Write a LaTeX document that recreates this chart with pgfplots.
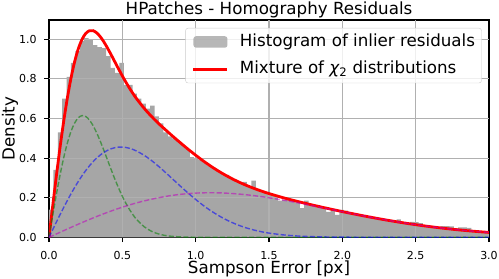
\documentclass[border=0pt]{standalone}
\usepackage{fontspec}
\setmainfont{DejaVu Sans}
\usepackage{pgfplots}
\pgfplotsset{compat=1.18}
\definecolor{mplg}{rgb}{0,0.5,0}
\definecolor{mplb}{rgb}{0,0,1}
\definecolor{mplm}{rgb}{0.75,0,0.75}
\definecolor{gridc}{HTML}{B0B0B0}
\definecolor{histc}{HTML}{A6A6A6}
\begin{document}
\begin{tikzpicture}
\begin{axis}[
  scale only axis, width=440pt, height=217.3pt,
  at={(0pt,0pt)}, anchor=south west,
  xmin=0, xmax=3, ymin=0, ymax=1.097,
  xtick={0,0.5,1,1.5,2,2.5,3},
  xticklabels={0.0,0.5,1.0,1.5,2.0,2.5,3.0},
  ytick={0,0.2,0.4,0.6,0.8,1.0},
  yticklabels={0.0,0.2,0.4,0.6,0.8,1.0},
  xtick pos=bottom, ytick pos=left,
  tick align=outside, major tick length=4.9pt,
  every tick/.style={line width=1.1pt, black},
  axis line style={line width=1.1pt},
  tick label style={font=\fontsize{11}{13}\selectfont, inner sep=0pt},
  xticklabel style={anchor=base, yshift=-17.7pt},
  yticklabel style={anchor=east, xshift=-7.3pt},
  every axis title shift=0pt,
  title={HPatches - Homography Residuals},
  title style={at={(axis description cs:0.5,1.0262)}, anchor=base, yshift=0pt, inner sep=0pt, font=\fontsize{16.7}{20}\selectfont},
  xlabel={Sampson Error [px]},
  xlabel style={at={(axis description cs:0.5,-0.1657)}, anchor=base, inner sep=0pt, font=\fontsize{16.7}{20}\selectfont},
  ylabel={Density},
  ylabel style={at={(axis description cs:-0.0784,0.5)}, anchor=base, inner sep=0pt, font=\fontsize{16.7}{20}\selectfont},
  legend cell align=left,
  legend style={at={(axis description cs:0.9835,0.9632)}, anchor=north east,
    font=\fontsize{16.7}{20}\selectfont, draw=black!20, rounded corners=2.5pt,
    fill=white, fill opacity=0.8, text opacity=1, inner xsep=6.5pt, inner ysep=5.5pt, row sep=10.8pt,
    nodes={inner sep=0pt, text height=12.5pt, text depth=4pt},
    /tikz/every odd column/.append style={column sep=11pt}},
]
\addplot[ybar interval, fill=histc, draw=none,
  legend image code/.code={\fill[histc] (0pt,-5.7pt) rectangle (34pt,5.7pt);}]
coordinates {
(0.00,0.14) (0.03,0.34) (0.06,0.53) (0.09,0.70) (0.12,0.81) (0.15,0.88) (0.18,0.94) (0.21,0.99) (0.24,1.005) (0.27,1.00)
(0.30,0.97) (0.33,0.96) (0.36,0.955) (0.39,0.915) (0.42,0.855) (0.45,0.83) (0.48,0.88) (0.51,0.77) (0.54,0.77) (0.57,0.725)
(0.60,0.70) (0.63,0.675) (0.66,0.65) (0.69,0.665) (0.72,0.61) (0.75,0.575) (0.78,0.53) (0.81,0.51) (0.84,0.50) (0.87,0.485)
(0.90,0.465) (0.93,0.445) (0.96,0.405) (0.99,0.40) (1.02,0.39) (1.05,0.375) (1.08,0.36) (1.11,0.345) (1.14,0.335) (1.17,0.32)
(1.20,0.315) (1.23,0.30) (1.26,0.285) (1.29,0.275) (1.32,0.28) (1.35,0.255) (1.38,0.286) (1.41,0.24) (1.44,0.23) (1.47,0.225)
(1.50,0.22) (1.53,0.21) (1.56,0.185) (1.59,0.19) (1.62,0.195) (1.65,0.185) (1.68,0.175) (1.71,0.147) (1.74,0.185) (1.77,0.16)
(1.80,0.155) (1.83,0.155) (1.86,0.15) (1.89,0.128) (1.92,0.138) (1.95,0.113) (1.98,0.138) (2.01,0.135) (2.04,0.12) (2.07,0.115)
(2.10,0.11) (2.13,0.108) (2.16,0.104) (2.19,0.10) (2.22,0.095) (2.25,0.09) (2.28,0.087) (2.31,0.084) (2.34,0.082) (2.37,0.09)
(2.40,0.075) (2.43,0.07) (2.46,0.078) (2.49,0.077) (2.52,0.072) (2.55,0.06) (2.58,0.057) (2.61,0.053) (2.64,0.05) (2.67,0.057)
(2.70,0.056) (2.73,0.055) (2.76,0.045) (2.79,0.05) (2.82,0.05) (2.85,0.048) (2.88,0.035) (2.91,0.032) (2.94,0.028) (2.97,0.027)
(3.00,0)
};
\addlegendentry{Histogram of inlier residuals}
% grid lines drawn over the histogram, under the curves
\addplot[gridc, line width=1.1pt, forget plot] coordinates {(0.5,0) (0.5,1.097)};
\addplot[gridc, line width=1.1pt, forget plot] coordinates {(1.0,0) (1.0,1.097)};
\addplot[gridc, line width=1.1pt, forget plot] coordinates {(1.5,0) (1.5,1.097)};
\addplot[gridc, line width=1.1pt, forget plot] coordinates {(2.0,0) (2.0,1.097)};
\addplot[gridc, line width=1.1pt, forget plot] coordinates {(2.5,0) (2.5,1.097)};
\addplot[gridc, line width=1.1pt, forget plot] coordinates {(0,0.2) (3,0.2)};
\addplot[gridc, line width=1.1pt, forget plot] coordinates {(0,0.4) (3,0.4)};
\addplot[gridc, line width=1.1pt, forget plot] coordinates {(0,0.6) (3,0.6)};
\addplot[gridc, line width=1.1pt, forget plot] coordinates {(0,0.8) (3,0.8)};
\addplot[gridc, line width=1.1pt, forget plot] coordinates {(0,1.0) (3,1.0)};
\addplot[red, line width=2.8pt, smooth,
  legend image code/.code={\draw[red, line width=2.8pt] (0pt,0pt) -- (34pt,0pt);}]
coordinates {
(0,0) (0.025,0.1562) (0.05,0.3082) (0.075,0.4521) (0.1,0.5845) (0.125,0.7024) (0.15,0.8037) (0.175,0.8871)
(0.2,0.9520) (0.225,0.9989) (0.25,1.0287) (0.275,1.0427) (0.3,1.0432) (0.325,1.0323) (0.35,1.0123) (0.375,0.9855)
(0.4,0.9540) (0.425,0.9198) (0.45,0.8844) (0.475,0.8491) (0.5,0.8147) (0.525,0.7823) (0.55,0.7516) (0.575,0.7232)
(0.6,0.6969) (0.65,0.6501) (0.7,0.6093) (0.75,0.5726) (0.8,0.5389) (0.85,0.5061) (0.9,0.4745) (0.95,0.4437)
(1.0,0.4145) (1.05,0.3865) (1.1,0.3607) (1.15,0.3367) (1.2,0.3149) (1.25,0.2950) (1.3,0.2770) (1.35,0.2609)
(1.4,0.2462) (1.45,0.2330) (1.5,0.2208) (1.6,0.1992) (1.7,0.1800) (1.8,0.1623) (1.9,0.1457) (2.0,0.1298)
(2.1,0.1148) (2.2,0.1005) (2.3,0.0872) (2.4,0.0749) (2.5,0.0637) (2.6,0.0537) (2.7,0.0448) (2.8,0.0370)
(2.9,0.0303) (3.0,0.0246)
};
\addlegendentry{Mixture of {\itshape χ}\textsubscript{2} distributions}
\addplot[mplg, opacity=0.55, line width=1.4pt, dash pattern=on 5.1pt off 2.2pt, smooth, forget plot]
coordinates {
(0,0) (0.025,0.1095) (0.05,0.2151) (0.075,0.3133) (0.1,0.4008) (0.125,0.4750) (0.15,0.5342) (0.175,0.5771)
(0.2,0.6036) (0.225,0.6142) (0.25,0.6100) (0.275,0.5927) (0.3,0.5644) (0.325,0.5275) (0.35,0.4844) (0.375,0.4373)
(0.4,0.3883) (0.425,0.3395) (0.45,0.2923) (0.475,0.2480) (0.5,0.2073) (0.525,0.1709) (0.55,0.1389) (0.575,0.1113)
(0.6,0.0880) (0.65,0.0528) (0.7,0.0300) (0.75,0.0162) (0.8,0.0083) (0.85,0.0041) (0.9,0.0019) (0.95,0.0008)
(1.0,0.0003) (1.1,0) (1.5,0) (2.0,0) (2.5,0) (3.0,0)
};
\addplot[mplb, opacity=0.55, line width=1.4pt, dash pattern=on 5.1pt off 2.2pt, smooth, forget plot]
coordinates {
(0,0) (0.025,0.0383) (0.05,0.0763) (0.075,0.1136) (0.1,0.1501) (0.125,0.1855) (0.15,0.2194) (0.175,0.2517)
(0.2,0.2821) (0.225,0.3104) (0.25,0.3365) (0.275,0.3601) (0.3,0.3813) (0.325,0.3999) (0.35,0.4157) (0.375,0.4289)
(0.4,0.4394) (0.425,0.4473) (0.45,0.4525) (0.475,0.4552) (0.5,0.4554) (0.525,0.4534) (0.55,0.4491) (0.575,0.4428)
(0.6,0.4346) (0.65,0.4134) (0.7,0.3868) (0.75,0.3564) (0.8,0.3235) (0.85,0.2894) (0.9,0.2554) (0.95,0.2223)
(1.0,0.1911) (1.05,0.1620) (1.1,0.1357) (1.15,0.1122) (1.2,0.0917) (1.25,0.0740) (1.3,0.0590) (1.35,0.0465)
(1.4,0.0362) (1.45,0.0279) (1.5,0.0212) (1.6,0.0119) (1.7,0.0063) (1.8,0.0032) (1.9,0.0016) (2.0,0.0007)
(2.2,0.0001) (2.5,0) (3.0,0)
};
\addplot[mplm, opacity=0.55, line width=1.4pt, dash pattern=on 5.1pt off 2.2pt, smooth, forget plot]
coordinates {
(0,0) (0.05,0.0168) (0.1,0.0336) (0.15,0.0501) (0.2,0.0663) (0.25,0.0822) (0.3,0.0975) (0.35,0.1122)
(0.4,0.1263) (0.45,0.1396) (0.5,0.1520) (0.55,0.1636) (0.6,0.1743) (0.65,0.1839) (0.7,0.1925) (0.75,0.2000)
(0.8,0.2071) (0.85,0.2126) (0.9,0.2172) (0.95,0.2206) (1.0,0.2231) (1.05,0.2245) (1.1,0.2250) (1.15,0.2245)
(1.2,0.2232) (1.25,0.2210) (1.3,0.2180) (1.35,0.2144) (1.4,0.2100) (1.45,0.2051) (1.5,0.1996) (1.6,0.1873)
(1.7,0.1737) (1.8,0.1591) (1.9,0.1441) (2.0,0.1291) (2.1,0.1145) (2.2,0.1004) (2.3,0.0872) (2.4,0.0749)
(2.5,0.0637) (2.6,0.0537) (2.7,0.0448) (2.8,0.0370) (2.9,0.0303) (3.0,0.0246)
};
\end{axis}
\pgfresetboundingbox
\path[use as bounding box] (-49pt,-41.7pt) rectangle (450pt,237.3pt);
\end{tikzpicture}
\end{document}
